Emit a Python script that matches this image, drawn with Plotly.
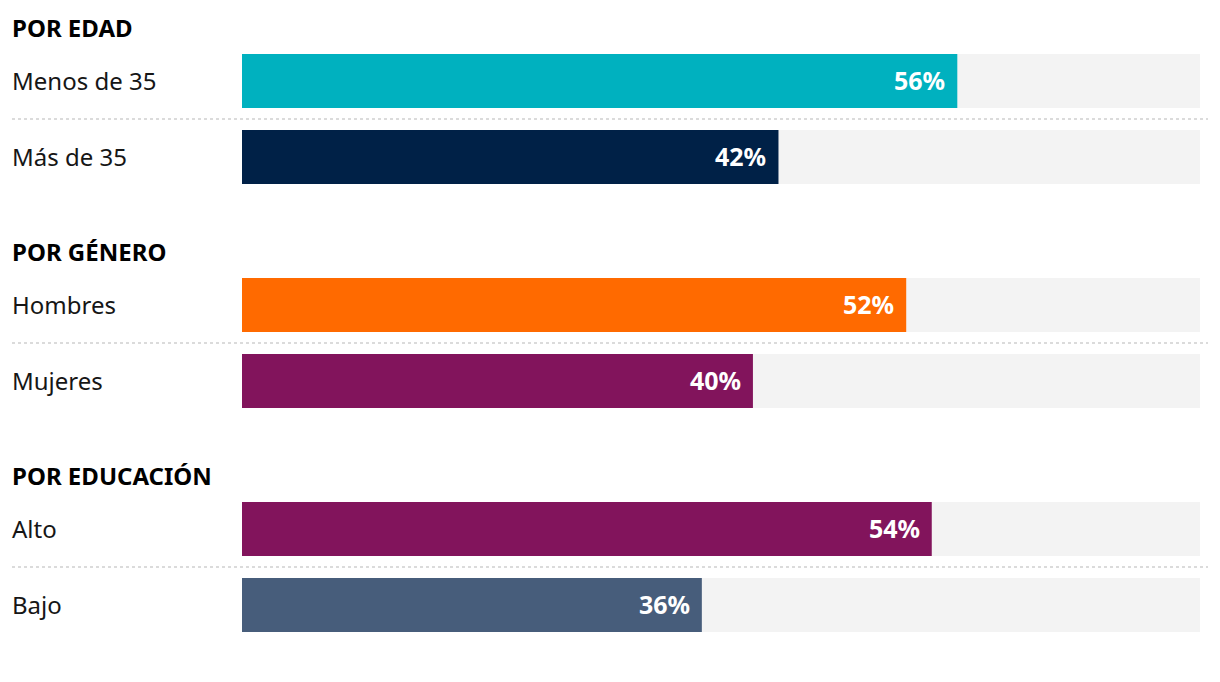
import plotly.graph_objects as go

groups = ["POR EDAD", "POR GÉNERO", "POR EDUCACIÓN"]
categories = [["Menos de 35", "Más de 35"], ["Hombres", "Mujeres"], ["Alto", "Bajo"]]
values = [[56, 42], [52, 40], [54, 36]]
colors = [["#00b1bf", "#002147"], ["#ff6a00", "#82145c"], ["#82145c", "#475d7b"]]
track_max = 75

# page body has an 8px default margin; compensate
OFF = 8
W, H = 1220 - OFF, 682 - OFF
ML, MR = 242 - OFF, 20
plot_w = W - ML - MR

FONT = "Noto Sans"

ys, labels, vals, cols = [], [], [], []
for g, (cats, vs, cs) in enumerate(zip(categories, values, colors)):
    for r, (c, v, col) in enumerate(zip(cats, vs, cs)):
        ys.append(81 - OFF + 224 * g + 76 * r)
        labels.append(c)
        vals.append(v)
        cols.append(col)

fig = go.Figure()
fig.add_trace(go.Bar(
    x=[track_max] * len(ys), y=ys, orientation="h", width=54,
    marker=dict(color="#f3f3f3", line=dict(width=0)), hoverinfo="skip", showlegend=False))
fig.add_trace(go.Bar(
    x=vals, y=ys, orientation="h", width=54,
    marker=dict(color=cols, line=dict(width=0)), hoverinfo="skip", showlegend=False))

xl = (12 - OFF - ML) / plot_w
ann = []
for y, lab, v in zip(ys, labels, vals):
    ann.append(dict(x=v, y=y, xref="x", yref="y", text=f"<b>{v}%</b>", showarrow=False,
                    xanchor="right", yanchor="middle", xshift=-10, yshift=1,
                    font=dict(family=FONT, size=25, color="white")))
    ann.append(dict(x=xl, y=y, xref="paper", yref="y", text=lab, showarrow=False,
                    xanchor="left", yanchor="middle", xshift=-2, yshift=1,
                    font=dict(family=FONT, size=24, color="#161616")))
for g, name in enumerate(groups):
    ann.append(dict(x=xl, y=28 - OFF + 224 * g, xref="paper", yref="y",
                    text=f"<b>{name}</b>", showarrow=False, xanchor="left", yanchor="middle",
                    xshift=-2, yshift=1,
                    font=dict(family=FONT, size=24, color="#000000")))

shapes = []
for g in range(len(groups)):
    yy = 119 - OFF + 224 * g
    shapes.append(dict(type="line", xref="paper", yref="y",
                       x0=xl, x1=(1208 - OFF - ML) / plot_w, y0=yy, y1=yy,
                       line=dict(color="#cfcfcf", width=1.5, dash="dot")))

fig.update_layout(
    width=W, height=H, barmode="overlay",
    margin=dict(l=ML, r=MR, t=0, b=0),
    paper_bgcolor="white", plot_bgcolor="white",
    xaxis=dict(range=[0, track_max], visible=False, fixedrange=True),
    yaxis=dict(range=[H, 0], visible=False, fixedrange=True),
    annotations=ann, shapes=shapes, showlegend=False,
)
fig.write_html("out.html")
